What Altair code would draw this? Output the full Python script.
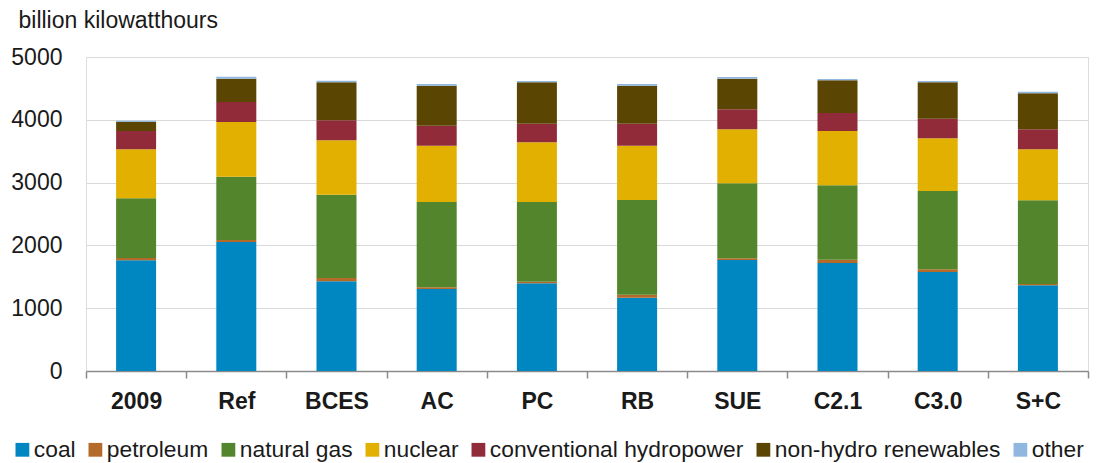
import altair as alt
import pandas as pd

scenarios = ["2009", "Ref", "BCES", "AC", "PC", "RB", "SUE", "C2.1", "C3.0", "S+C"]
sources = ["coal", "petroleum", "natural gas", "nuclear", "conventional hydropower",
           "non-hydro renewables", "other"]
colors = ["#0086C0", "#B46A29", "#53862C", "#E2B000", "#912B3A", "#5B4503", "#8FB7E0"]

coal        = [1765, 2054, 1428, 1306, 1396, 1167, 1768, 1720, 1576, 1365]
petroleum   = [35,   32,   53,   27,   26,   48,   27,   52,   43,   20]
natural_gas = [950,  1008, 1327, 1358, 1269, 1508, 1194, 1185, 1247, 1333]
nuclear     = [780,  871,  866,  897,  951,  865,  860,  865,  839,  812]
hydro       = [290,  318,  318,  318,  296,  350,  318,  286,  313,  319]
nonhydro    = [145,  372,  605,  637,  659,  605,  488,  521,  579,  573]
other       = [20,   31,   26,   27,   21,   27,   27,   21,   21,   26]

series = [coal, petroleum, natural_gas, nuclear, hydro, nonhydro, other]

rows = []
for si, (src, vals) in enumerate(zip(sources, series)):
    for sc, v in zip(scenarios, vals):
        rows.append({"scenario": sc, "source": src, "value": v, "order": si})
df = pd.DataFrame(rows)

font = "Arial, Liberation Sans, sans-serif"

chart = alt.Chart(df).mark_bar(size=40).encode(
    x=alt.X("scenario:N", sort=scenarios,
            scale=alt.Scale(paddingInner=0, paddingOuter=0),
            axis=alt.Axis(title=None, labelAngle=0, labelFont=font, labelFontSize=23,
                          labelFontWeight="bold", labelColor="#1a1a1a", labelPadding=12,
                          tickBand="extent", tickSize=7, tickColor="#8a8a8a",
                          domainColor="#8a8a8a", domainWidth=1.5, tickWidth=1.5,
                          grid=False)),
    y=alt.Y("value:Q", stack="zero",
            scale=alt.Scale(domain=[0, 5000], nice=False),
            axis=alt.Axis(values=[0, 1000, 2000, 3000, 4000, 5000], format="d",
                          title="billion kilowatthours", titleAngle=0, titleAlign="left",
                          titleBaseline="alphabetic", titleX=-68, titleY=-30,
                          titleFont=font, titleFontSize=23, titleFontWeight="normal",
                          titleColor="#1a1a1a",
                          labelFont=font, labelFontSize=23, labelColor="#1a1a1a",
                          labelPadding=24, tickSize=0, domain=False,
                          gridColor="#d9d9d9", gridWidth=1.2)),
    color=alt.Color("source:N", sort=sources,
                    scale=alt.Scale(domain=sources, range=colors),
                    legend=alt.Legend(title=None, orient="none", direction="horizontal",
                                      columns=7, legendX=-75, legendY=381,
                                      symbolType="square", symbolSize=190,
                                      symbolStrokeWidth=0, symbolOffset=0,
                                      labelFont=font, labelFontSize=22.8,
                                      labelLimit=400,
                                      labelColor="#1a1a1a", labelOffset=0,
                                      columnPadding=8)),
    order=alt.Order("order:Q"),
).properties(
    width=1002, height=314,
    autosize=alt.AutoSizeParams(type="none"),
    padding={"left": 78, "top": 49, "right": 4, "bottom": 92},
).configure_view(stroke=None).configure(background="white")

chart.save("out.html", embed_options={"renderer": "svg", "actions": False})
